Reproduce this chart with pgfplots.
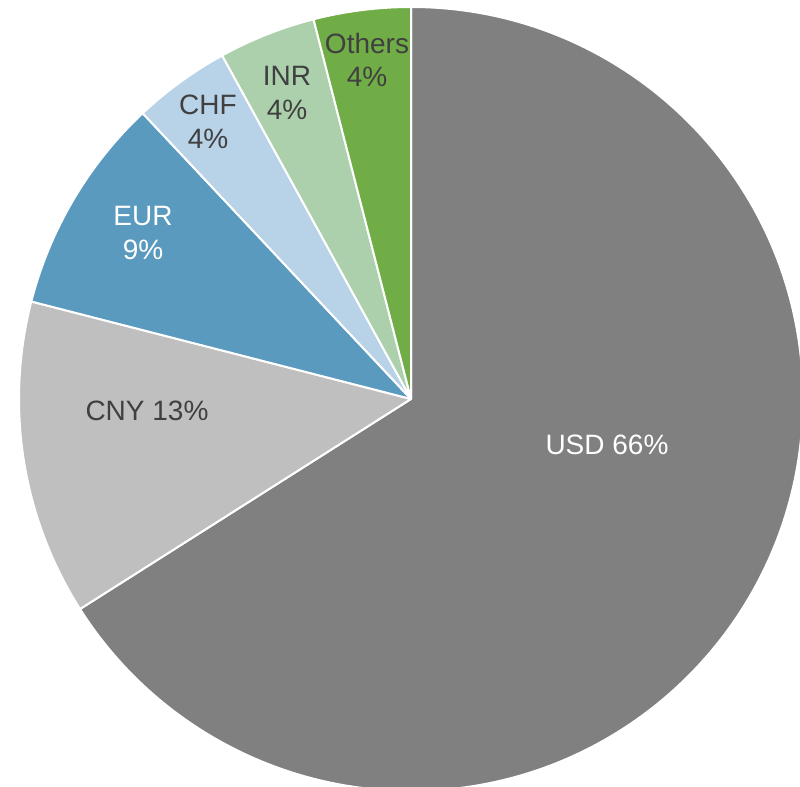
\documentclass[border=0pt]{standalone}
\usepackage{pgfplots}
\usepackage{pgfplotstable}
\pgfplotsset{compat=1.18}
\usepackage{fontspec}
\setmainfont{Liberation Sans}
\definecolor{cUSD}{HTML}{808080}
\definecolor{cCNY}{HTML}{BFBFBF}
\definecolor{cEUR}{HTML}{5A9ABF}
\definecolor{cCHF}{HTML}{B8D2E8}
\definecolor{cINR}{HTML}{ABD0AB}
\definecolor{cOthers}{HTML}{70AD47}
\definecolor{txt}{HTML}{404040}
\pgfplotstableread{
label pct
USD 66
CNY 13
EUR 9
CHF 4
INR 4
Others 4
}\piedata
\begin{document}
\begin{tikzpicture}
\begin{axis}[
  x=0.5pt, y=0.5pt,
  xmin=-411, xmax=389, ymin=-388, ymax=399,
  hide axis, clip=true,
  scale only axis,
]
\def\curang{90}
\pgfplotsforeachungrouped \i in {0,...,5}{%
  \pgfplotstablegetelem{\i}{pct}\of\piedata
  \pgfmathsetmacro\pv{\pgfplotsretval}%
  \pgfplotstablegetelem{\i}{label}\of\piedata
  \edef\lab{\pgfplotsretval}%
  \pgfmathsetmacro\endang{\curang-3.6*\pv}%
  \pgfmathsetmacro\sx{392*cos(\curang)}%
  \pgfmathsetmacro\sy{392*sin(\curang)}%
  \edef\tmp{\noexpand\fill[c\lab, draw=white, line width=1pt, line join=round]
    (axis cs:0,0) -- (axis cs:\sx,\sy) arc[start angle=\curang, end angle=\endang, radius=196pt] -- cycle;}%
  \tmp
  \global\let\curang\endang
}
\node[white, font=\fontsize{14}{16.8}\selectfont] at (axis cs:196,-46) {USD 66\%};
\node[txt, font=\fontsize{14}{16.8}\selectfont] at (axis cs:-264,-12) {CNY 13\%};
\node[white, align=center, font=\fontsize{14}{16.8}\selectfont] at (axis cs:-268,166) {EUR\\9\%};
\node[txt, align=center, font=\fontsize{14}{16.8}\selectfont] at (axis cs:-203,277) {CHF\\4\%};
\node[txt, align=center, font=\fontsize{14}{16.8}\selectfont] at (axis cs:-124,306) {INR\\4\%};
\node[txt, align=center, font=\fontsize{14}{16.8}\selectfont] at (axis cs:-44,339) {Others\\4\%};
\end{axis}
\pgfresetboundingbox
\useasboundingbox (current axis.south west) rectangle (current axis.north east);
\end{tikzpicture}
\end{document}
